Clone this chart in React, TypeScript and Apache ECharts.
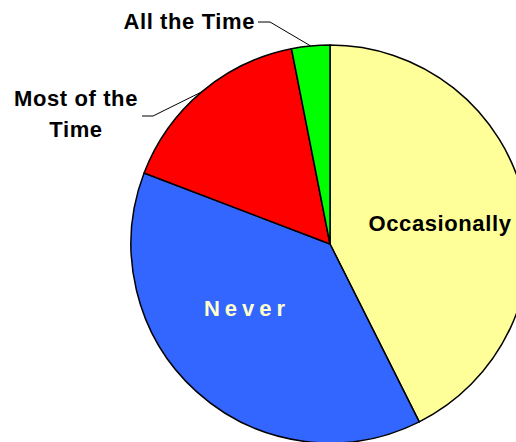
import React, { useEffect, useRef } from 'react';
import * as echarts from 'echarts';

// ---- data ----
const categories = ['Occasionally', 'Never', 'Most of the Time', 'All the Time'];
const values = [42.6, 38.2, 16.1, 3.1];
const sliceColors = ['#FFFF99', '#3366FF', '#FF0000', '#00FF00'];
const labelTexts = ['Occasionally', 'Never', 'Most of the\nTime', 'All the Time'];
const insideLabels = [true, true, false, false];

// ---- presentation ----
const BASE_FONT = "'Liberation Sans', Arial, sans-serif";
const SPACED_FONT = "Arimo, 'Liberation Sans', Arial, sans-serif";

type Placement = { x: number; y: number; align: 'left' | 'center' | 'right'; bend?: number[]; end?: number[] };
const placements: Record<string, Placement> = {
  'Occasionally': { x: 440, y: 223, align: 'center' },
  'Never': { x: 247, y: 308.5, align: 'center' },
  'Most of the Time': { x: 76, y: 114, align: 'center', bend: [153, 116], end: [142, 116] },
  'All the Time': { x: 255, y: 21, align: 'right', bend: [270, 22], end: [258, 22] },
};

const css = `
#pie-chart svg text { letter-spacing: 0.6px; }
#pie-chart svg text[style*="Arimo"] { letter-spacing: 5px; }
`;

export default function App() {
  const ref = useRef<HTMLDivElement>(null);

  useEffect(() => {
    if (!ref.current) return;
    const chart = echarts.init(ref.current, undefined, { renderer: 'svg' });
    const data = categories.map((name, i) => ({
      name,
      value: values[i],
      itemStyle: { color: sliceColors[i] },
      label: {
        position: insideLabels[i] ? 'inside' : 'outside',
        formatter: labelTexts[i],
        color: i === 1 ? '#FFFFCC' : '#000000',
        fontFamily: i === 1 ? SPACED_FONT : BASE_FONT,
      },
      labelLine: { show: !insideLabels[i] },
    }));

    chart.setOption({
      animation: false,
      backgroundColor: '#FFFFFF',
      series: [
        {
          type: 'pie',
          center: [330, 244],
          radius: 199,
          startAngle: 90,
          clockwise: true,
          silent: true,
          avoidLabelOverlap: false,
          emphasis: { disabled: true },
          itemStyle: { borderColor: '#000000', borderWidth: 1.5 },
          label: {
            show: true,
            fontSize: 22,
            fontWeight: 'bold',
            lineHeight: 31,
            fontFamily: BASE_FONT,
            color: '#000000',
          },
          labelLine: {
            show: true,
            length: 20,
            length2: 12,
            lineStyle: { color: '#000000', width: 1 },
          },
          labelLayout: (params: any) => {
            const name = categories[params.dataIndex];
            const p = placements[name];
            if (!p) return {};
            const out: any = { x: p.x, y: p.y, align: p.align, verticalAlign: 'middle' };
            if (p.bend && p.end && params.labelLinePoints && params.labelLinePoints[0]) {
              out.labelLinePoints = [params.labelLinePoints[0], p.bend, p.end];
            }
            return out;
          },
          data,
        },
      ],
    });
    return () => chart.dispose();
  }, []);

  return (
    <>
      <style>{css}</style>
      <div
        id="pie-chart"
        ref={ref}
        style={{ position: 'fixed', left: 0, top: 0, width: 516, height: 442 }}
      />
    </>
  );
}
